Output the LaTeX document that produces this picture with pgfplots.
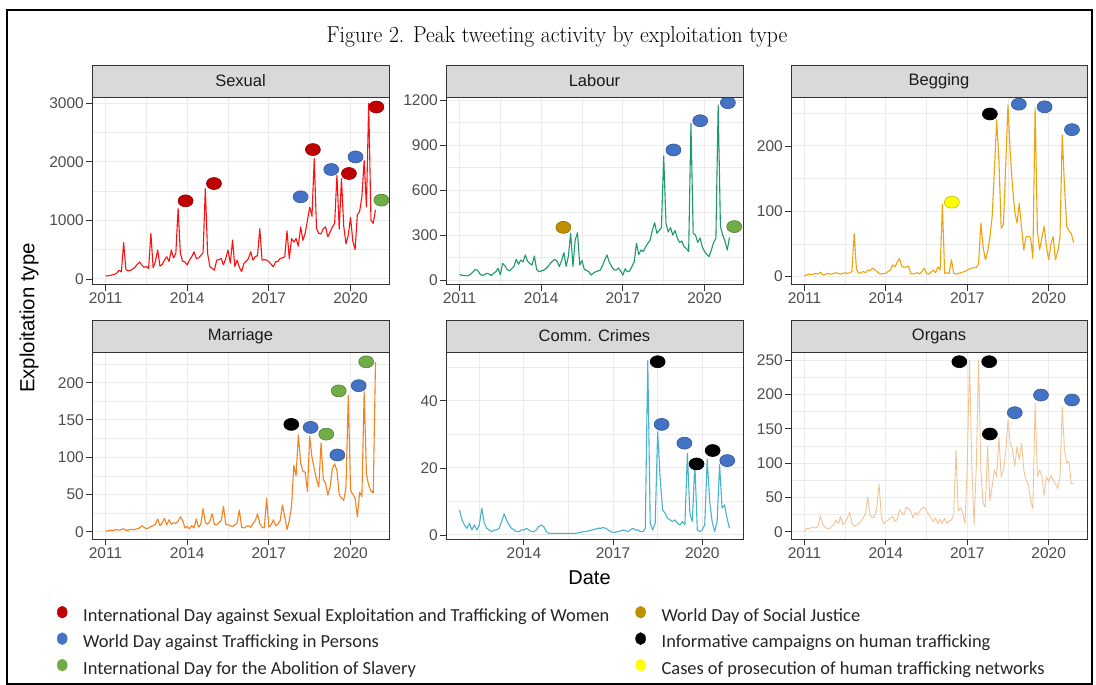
\documentclass[border=0pt]{standalone}
\usepackage{pgfplots}
\pgfplotsset{compat=1.18}
\usepackage{fontspec}
\newfontfamily\arial{Liberation Sans}
\newfontfamily\carlito{Carlito}
\definecolor{gridc}{HTML}{EBEBEB}
\definecolor{tickc}{HTML}{4D4D4D}
\definecolor{framec}{HTML}{333333}
\definecolor{stripc}{HTML}{D9D9D9}
\definecolor{stript}{HTML}{1A1A1A}
\definecolor{csex}{HTML}{FF1010}
\definecolor{clab}{HTML}{1B9970}
\definecolor{cbeg}{HTML}{F0A30F}
\definecolor{cmar}{HTML}{F58220}
\definecolor{ccom}{HTML}{48B3CF}
\definecolor{corg}{HTML}{F3C493}
\definecolor{mred}{HTML}{C00000}
\definecolor{mblue}{HTML}{4472C4}
\definecolor{mgreen}{HTML}{70AD47}
\definecolor{mgold}{HTML}{BF9000}
\definecolor{mblack}{HTML}{000000}
\definecolor{myellow}{HTML}{FFFF00}
\pgfplotsset{
  strip/.style={extra description/.code={
      \draw[framec, line width=0.9pt, fill=stripc] (axis description cs:0,1) rectangle ([yshift=32pt]axis description cs:1,1);
      \node[font=\arial\fontsize{16.5}{16.5}\selectfont, text=stript] at ([yshift=16pt]axis description cs:0.5,1) {#1};}},
  panel/.style={
    scale only axis, width=297pt, height=187.5pt,
    axis line style={framec, line width=0.9pt},
    tick style={framec, line width=0.9pt},
    major tick length=6pt, minor tick length=0pt,
    tick align=outside, tick pos=left,
    grid=both,
    major grid style={gridc, line width=1pt},
    minor grid style={gridc, line width=0.5pt},
    tick label style={font=\arial\fontsize{15.5}{15.5}\selectfont, text=tickc, inner sep=2pt},
    /pgf/number format/assume math mode=true,
    /pgf/number format/1000 sep={},
    scaled y ticks=false,
    xtick={0,36,72,108}, xticklabels={2011,2014,2017,2020},
    minor xtick={18,54,90},
    xmin=-5.95, xmax=124.95,
    clip=false,
  },
  dat/.style={line width=1.1pt, line join=round, mark=none},
  pk/.style={only marks, mark=*, mark size=6pt, mark options={xscale=1.25, fill=#1, draw=#1!75!black, line width=0.6pt}},
}
\begin{document}
\begin{tikzpicture}
\path[use as bounding box, fill=white] (0pt,0pt) rectangle (1096pt,-685pt);
\draw[black, line width=1.2pt] (7pt,-10pt) rectangle (1092pt,-684pt);
\node at (557pt,-37pt) {\fontsize{23}{23}\selectfont\scalebox{0.94}[1]{Figure 2. Peak tweeting activity by exploitation type}};

% Sexual
\begin{axis}[panel, strip=Sexual, at={(92pt,-97pt)}, anchor=north west,
  ymin=-94, ymax=3107, ytick={0,1000,2000,3000}, minor ytick={500,1500,2500}]
\addplot[dat, csex] coordinates {(0,50)(1,55)(2,60)(3,70)(4,80)(5,100)(6,150)(7,120)(8,620)(9,160)(10,140)(11,150)(12,170)(13,200)(14,250)(15,290)(16,240)(17,200)(18,210)(19,180)(20,780)(21,190)(22,300)(23,494)(24,220)(25,250)(26,323)(27,380)(28,300)(29,490)(30,360)(31,437)(32,1203)(33,437)(34,300)(35,295)(36,240)(37,323)(38,380)(39,465)(40,350)(41,360)(42,400)(43,450)(44,1545)(45,437)(46,210)(47,180)(48,150)(49,323)(50,330)(51,350)(52,240)(53,350)(54,494)(55,270)(56,665)(57,215)(58,323)(59,200)(60,125)(61,270)(62,300)(63,350)(64,465)(65,323)(66,380)(67,400)(68,860)(69,323)(70,330)(71,323)(72,295)(73,250)(74,210)(75,295)(76,300)(77,352)(78,360)(79,380)(80,820)(81,350)(82,690)(83,630)(84,690)(85,560)(86,890)(87,660)(88,780)(89,1000)(90,1225)(91,1070)(92,2055)(93,860)(94,780)(95,770)(96,860)(97,890)(98,720)(99,800)(100,890)(101,950)(102,1770)(103,850)(104,1715)(105,900)(106,600)(107,750)(108,1050)(109,650)(110,500)(111,1100)(112,1150)(113,1400)(114,2025)(115,1230)(116,3000)(117,1000)(118,950)(119,1180)};
\addplot[pk=mred] coordinates {(35.3,1334)(47.8,1630)(91.4,2210)(107.3,1801)(119.4,2936)};
\addplot[pk=mblue] coordinates {(86.0,1403)(99.5,1869)(110.2,2084)};
\addplot[pk=mgreen] coordinates {(121.6,1346)};
\end{axis}

% Labour
\begin{axis}[panel, strip=Labour, at={(446pt,-97pt)}, anchor=north west,
  ymin=-30, ymax=1220, ytick={0,300,600,900,1200}, minor ytick={150,450,750,1050}]
\addplot[dat, clab] coordinates {(0,38)(1,32)(2,30)(3,27)(4,30)(5,40)(6,55)(7,71)(8,65)(9,40)(10,30)(11,35)(12,45)(13,40)(14,30)(15,45)(16,55)(17,78)(18,35)(19,111)(20,95)(21,70)(22,60)(23,75)(24,90)(25,138)(26,105)(27,133)(28,120)(29,167)(30,125)(31,110)(32,100)(33,160)(34,70)(35,55)(36,60)(37,65)(38,75)(39,90)(40,110)(41,125)(42,138)(43,125)(44,90)(45,130)(46,182)(47,90)(48,160)(49,311)(50,90)(51,267)(52,315)(53,100)(54,130)(55,71)(56,65)(57,55)(58,33)(59,45)(60,55)(61,60)(62,65)(63,95)(64,133)(65,167)(66,120)(67,90)(68,70)(69,65)(70,80)(71,60)(72,33)(73,75)(74,55)(75,60)(76,90)(77,120)(78,244)(79,170)(80,200)(81,190)(82,220)(83,244)(84,267)(85,330)(86,382)(87,311)(88,330)(89,350)(90,827)(91,378)(92,320)(93,350)(94,300)(95,330)(96,280)(97,250)(98,260)(99,220)(100,210)(101,189)(102,1044)(103,311)(104,300)(105,250)(106,280)(107,220)(108,190)(109,170)(110,156)(111,200)(112,250)(113,278)(114,1167)(115,355)(116,300)(117,260)(118,200)(119,284)};
\addplot[pk=mgold] coordinates {(45.8,351)};
\addplot[pk=mblue] coordinates {(94.3,867)(106.1,1062)(118.3,1182)};
\addplot[pk=mgreen] coordinates {(121.1,356)};
\end{axis}

% Begging
\begin{axis}[panel, strip=Begging, width=296pt, at={(791pt,-97pt)}, anchor=north west,
  ymin=-12, ymax=275, ytick={0,100,200}, minor ytick={50,150,250}]
\addplot[dat, cbeg] coordinates {(0,1)(1,3)(2,4)(3,3)(4,4)(5,5)(6,4)(7,7)(8,3)(9,3)(10,5)(11,4)(12,4)(13,5)(14,6)(15,5)(16,4)(17,5)(18,6)(19,5)(20,6)(21,8)(22,66)(23,11)(24,5)(25,6)(26,8)(27,6)(28,10)(29,9)(30,13)(31,11)(32,8)(33,5)(34,4)(35,5)(36,5)(37,8)(38,10)(39,18)(40,15)(41,22)(42,28)(43,16)(44,14)(45,15)(46,16)(47,5)(48,4)(49,5)(50,6)(51,4)(52,8)(53,13)(54,5)(55,4)(56,7)(57,10)(58,6)(59,15)(60,10)(61,111)(62,5)(63,6)(64,5)(65,26)(66,5)(67,4)(68,5)(69,6)(70,7)(71,8)(72,10)(73,12)(74,13)(75,14)(76,14)(77,20)(78,82)(79,46)(80,26)(81,38)(82,60)(83,92)(84,163)(85,240)(86,178)(87,74)(88,80)(89,170)(90,263)(91,190)(92,138)(93,100)(94,82)(95,112)(96,75)(97,41)(98,61)(99,62)(100,60)(101,28)(102,258)(103,70)(104,41)(105,60)(106,77)(107,46)(108,26)(109,50)(110,61)(111,26)(112,38)(113,60)(114,217)(115,138)(116,77)(117,70)(118,66)(119,52)};
\addplot[pk=myellow] coordinates {(65.2,114)};
\addplot[pk=mblack] coordinates {(82.0,249)};
\addplot[pk=mblue] coordinates {(94.8,264)(106.2,260)(118.3,225)};
\end{axis}

% Marriage
\begin{axis}[panel, strip=Marriage, height=187pt, at={(92pt,-352pt)}, anchor=north west,
  ymin=-9.8, ymax=241.2, ytick={0,50,100,150,200}, minor ytick={25,75,125,175,225}]
\addplot[dat, cmar] coordinates {(0,1)(1,1)(2,2)(3,2)(4,2)(5,3)(6,2)(7,3)(8,4)(9,2)(10,2)(11,3)(12,3)(13,3)(14,4)(15,5)(16,8)(17,6)(18,4)(19,5)(20,7)(21,8)(22,10)(23,17)(24,8)(25,12)(26,18)(27,9)(28,16)(29,10)(30,12)(31,11)(32,14)(33,20)(34,15)(35,5)(36,7)(37,4)(38,8)(39,5)(40,17)(41,6)(42,10)(43,31)(44,12)(45,10)(46,14)(47,24)(48,10)(49,9)(50,12)(51,15)(52,34)(53,10)(54,9)(55,8)(56,7)(57,9)(58,12)(59,29)(60,6)(61,5)(62,7)(63,8)(64,6)(65,11)(66,15)(67,24)(68,11)(69,6)(70,5)(71,45)(72,6)(73,9)(74,16)(75,8)(76,10)(77,15)(78,36)(79,20)(80,3)(81,15)(82,34)(83,89)(84,75)(85,130)(86,92)(87,81)(88,80)(89,54)(90,128)(91,100)(92,85)(93,70)(94,60)(95,119)(96,70)(97,65)(98,49)(99,60)(100,85)(101,91)(102,82)(103,50)(104,45)(105,42)(106,60)(107,183)(108,56)(109,50)(110,45)(111,20)(112,53)(113,47)(114,188)(115,78)(116,62)(117,55)(118,52)(119,228)};
\addplot[pk=mblack] coordinates {(81.9,144)};
\addplot[pk=mblue] coordinates {(90.4,140)(102.2,103)(111.6,196)};
\addplot[pk=mgreen] coordinates {(97.3,131)(102.8,189)(114.9,228)};
\end{axis}

% Comm. Crimes
\begin{axis}[panel, strip={Comm. Crimes}, height=187pt, at={(446pt,-352pt)}, anchor=north west,
  xmin=4.55, xmax=124.45, xtick={36,72,108}, xticklabels={2014,2017,2020}, minor xtick={18,54,90},
  ymin=-1.2, ymax=54.6, ytick={0,20,40}, minor ytick={10,30,50}]
\addplot[dat, ccom] coordinates {(10,7.5)(11,4.5)(12,3)(13,2)(14,3.5)(15,1.5)(16,3)(17,1.5)(18,3)(19,8)(20,3.5)(21,2)(22,1.5)(23,1)(24,1.5)(25,1.5)(26,2)(27,4)(28,6.3)(29,4.5)(30,3)(31,2)(32,1.5)(33,1)(34,1)(35,1.5)(36,1.5)(37,2)(38,1.5)(39,1)(40,1)(41,1.5)(42,2.5)(43,3)(44,2.5)(45,1)(46,0.5)(47,0.5)(48,0.5)(49,0.5)(50,0.5)(51,0.5)(52,0.5)(53,0.5)(54,0.5)(55,0.5)(56,0.5)(57,0.5)(58,0.7)(59,0.8)(60,1)(61,1)(62,1.2)(63,1.4)(64,1.6)(65,1.8)(66,2)(67,2)(68,2.2)(69,2)(70,1.5)(71,1)(72,0.8)(73,0.8)(74,1)(75,1.2)(76,1.5)(77,1.3)(78,1)(79,1.5)(80,2)(81,1.5)(82,1.5)(83,1)(84,1)(85,2)(86,52)(87,3.5)(88,1.5)(89,3.5)(90,30.8)(91,17)(92,7.5)(93,6.5)(94,5)(95,4.5)(96,4)(97,4.5)(98,3.5)(99,3)(100,4)(101,3)(102,24.4)(103,6.5)(104,4)(105,21.4)(106,1.5)(107,1)(108,1.5)(109,3)(110,22.6)(111,10)(112,4)(113,1)(114,4)(115,21)(116,8)(117,9)(118,5)(119,2)};
\addplot[pk=mblack] coordinates {(90.0,51.7)(105.7,21.2)(112.2,25.2)};
\addplot[pk=mblue] coordinates {(91.6,33.0)(100.8,27.4)(118.1,22.2)};
\end{axis}

% Organs
\begin{axis}[panel, strip=Organs, width=296pt, height=187pt, at={(791pt,-352pt)}, anchor=north west,
  ymin=-10.6, ymax=261.7, ytick={0,50,100,150,200,250}, minor ytick={25,75,125,175,225}]
\addplot[dat, corg, line width=0.9pt] coordinates {(0,0)(1,5)(2,4)(3,6)(4,7)(5,5)(6,8)(7,23)(8,12)(9,6)(10,5)(11,4)(12,8)(13,10)(14,17)(15,12)(16,22)(17,10)(18,14)(19,20)(20,29)(21,12)(22,8)(23,10)(24,12)(25,15)(26,20)(27,27)(28,50)(29,25)(30,20)(31,22)(32,36)(33,69)(34,22)(35,12)(36,15)(37,17)(38,20)(39,22)(40,15)(41,18)(42,32)(43,28)(44,25)(45,36)(46,33)(47,30)(48,20)(49,28)(50,24)(51,30)(52,34)(53,36)(54,30)(55,25)(56,20)(57,15)(58,20)(59,12)(60,18)(61,12)(62,20)(63,12)(64,16)(65,17)(66,25)(67,119)(68,30)(69,35)(70,28)(71,12)(72,97)(73,250)(74,95)(75,10)(76,95)(77,250)(78,90)(79,41)(80,36)(81,124)(82,45)(83,66)(84,90)(85,80)(86,138)(87,80)(88,90)(89,115)(90,163)(91,129)(92,120)(93,95)(94,124)(95,105)(96,129)(97,90)(98,75)(99,70)(100,46)(101,34)(102,187)(103,80)(104,90)(105,80)(106,53)(107,80)(108,73)(109,82)(110,75)(111,70)(112,63)(113,80)(114,182)(115,119)(116,100)(117,102)(118,70)(119,70)};
\addplot[pk=mblack] coordinates {(68.5,247.6)(81.7,247.6)(82.0,142.3)};
\addplot[pk=mblue] coordinates {(93.0,173.3)(104.6,199)(118.3,191.8)};
\end{axis}

% legend
\begin{axis}[at={(57pt,-606pt)}, anchor=north west, scale only axis, width=10pt, height=10pt,
  hide axis, xmin=0, xmax=1, ymin=0, ymax=1,
  legend columns=2, legend cell align=left,
  legend style={at={(0,1)}, anchor=north west, draw=none, fill=none, inner sep=0pt, outer sep=0pt,
    font=\carlito\fontsize{18.4}{18.4}\selectfont, text=black!85,
    nodes={inner sep=0pt, text height=13pt, text depth=4.5pt},
    row sep=6.5pt,
    /tikz/every even column/.append style={column sep=26pt}},
  legend image code/.code={\path[draw=none, fill=none] (0pt,0pt) -- (26pt,0pt); \filldraw[#1] (5pt,5pt) ellipse [x radius=5pt, y radius=6pt];},
]
\addlegendimage{fill=mred, draw=mred}
\addlegendentry{International Day against Sexual Exploitation and Trafficking of Women}
\addlegendimage{fill=mgold, draw=mgold}
\addlegendentry{World Day of Social Justice}
\addlegendimage{fill=mblue, draw=mblue}
\addlegendentry{World Day against Trafficking in Persons}
\addlegendimage{fill=mblack, draw=mblack}
\addlegendentry{Informative campaigns on human trafficking}
\addlegendimage{fill=mgreen, draw=mgreen}
\addlegendentry{International Day for the Abolition of Slavery}
\addlegendimage{fill=myellow, draw=myellow}
\addlegendentry{Cases of prosecution of human trafficking networks}
\end{axis}

\node[rotate=90, font=\arial\fontsize{20.4}{20.4}\selectfont] at (29pt,-318pt) {Exploitation type};
\node[font=\arial\fontsize{20}{20}\selectfont] at (589.5pt,-578pt) {Date};
\end{tikzpicture}
\end{document}
